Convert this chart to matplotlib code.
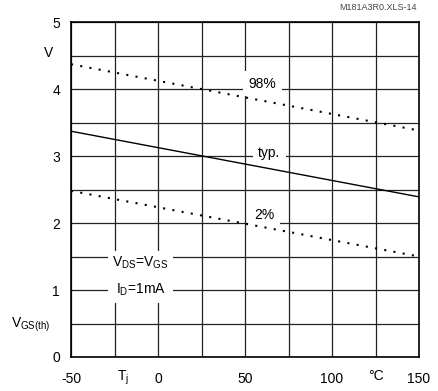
import numpy as np
import matplotlib.pyplot as plt
import matplotlib.transforms as mtransforms

plt.rcParams['font.family'] = ['Liberation Sans', 'DejaVu Sans']
plt.rcParams['mathtext.default'] = 'regular'

# junction temperature (degC) at the two ends of each curve
tj = [-50, 150]
# gate threshold voltage (V)
vth_98 = [4.37, 3.38]
vth_typ = [3.37, 2.39]
vth_2 = [2.48, 1.50]

x_ticks = [-50, -25, 0, 25, 50, 75, 100, 125, 150]
x_labels = ['-50', '', '0', '', '50', '', '100', '', '150']
y_ticks = [0, 0.5, 1, 1.5, 2, 2.5, 3, 3.5, 4, 4.5, 5]
y_labels = ['0', '', '1', '', '2', '', '3', '', '4', '', '5']

fig = plt.figure(figsize=(4.39, 3.91), dpi=100)
ax = fig.add_axes([71 / 439, 34 / 391, 348 / 439, 335 / 391])

ax.set_xlim(-50, 150)
ax.set_ylim(0, 5)
ax.set_xticks(x_ticks)
ax.set_xticklabels(x_labels)
ax.set_yticks(y_ticks)
ax.set_yticklabels(y_labels)
ax.tick_params(length=0, labelsize=10)
ax.tick_params(axis='x', pad=11)
ax.tick_params(axis='y', pad=8)
ax.grid(True, color='#222222', linewidth=0.9, zorder=1)
ax.set_axisbelow(True)
for s in ax.spines.values():
    s.set_linewidth(1.2)

ax.plot(tj, vth_98, color='black', linewidth=1.5, linestyle=(0, (1, 3.5)), zorder=4)
ax.plot(tj, vth_typ, color='black', linewidth=1.0, zorder=4)
ax.plot(tj, vth_2, color='black', linewidth=1.5, linestyle=(0, (1, 3.5)), zorder=4)

box = dict(facecolor='white', edgecolor='none', boxstyle='square,pad=0.4')
ax.text(60, 4.08, '98%', fontsize=10, ha='center', va='center', bbox=box, zorder=3)
ax.text(64, 3.04, 'typ.', fontsize=10, ha='center', va='center', bbox=box, zorder=3)
ax.text(61, 2.12, '2%', fontsize=10, ha='center', va='center', bbox=box, zorder=3)

ax.text(-10, 1.2, '$V_{DS}$=$V_{GS}$\n$I_D$=1mA', fontsize=10, ha='center', va='center',
        linespacing=1.9, zorder=3,
        bbox=dict(facecolor='white', edgecolor='none', boxstyle='square,pad=0.3'))

yt = mtransforms.blended_transform_factory(ax.transAxes, ax.transData)
ax.text(-0.052, 4.54, 'V', fontsize=10, ha='right', va='center', transform=yt)
ax.text(-0.058, 0.48, '$V_{GS(th)}$', fontsize=10, ha='right', va='center', transform=yt)

xt = mtransforms.blended_transform_factory(ax.transData, ax.transAxes)
ax.text(-20, -0.063, '$T_j$', fontsize=10, ha='center', va='center', transform=xt)
ax.text(125, -0.058, '°C', fontsize=10, ha='center', va='center', transform=xt)

fig.text(417 / 439, 1 - 8 / 391, 'M181A3R0.XLS-14', fontsize=6.5, color='#444444',
         ha='right', va='center')

fig.savefig('out.png', dpi=100)
